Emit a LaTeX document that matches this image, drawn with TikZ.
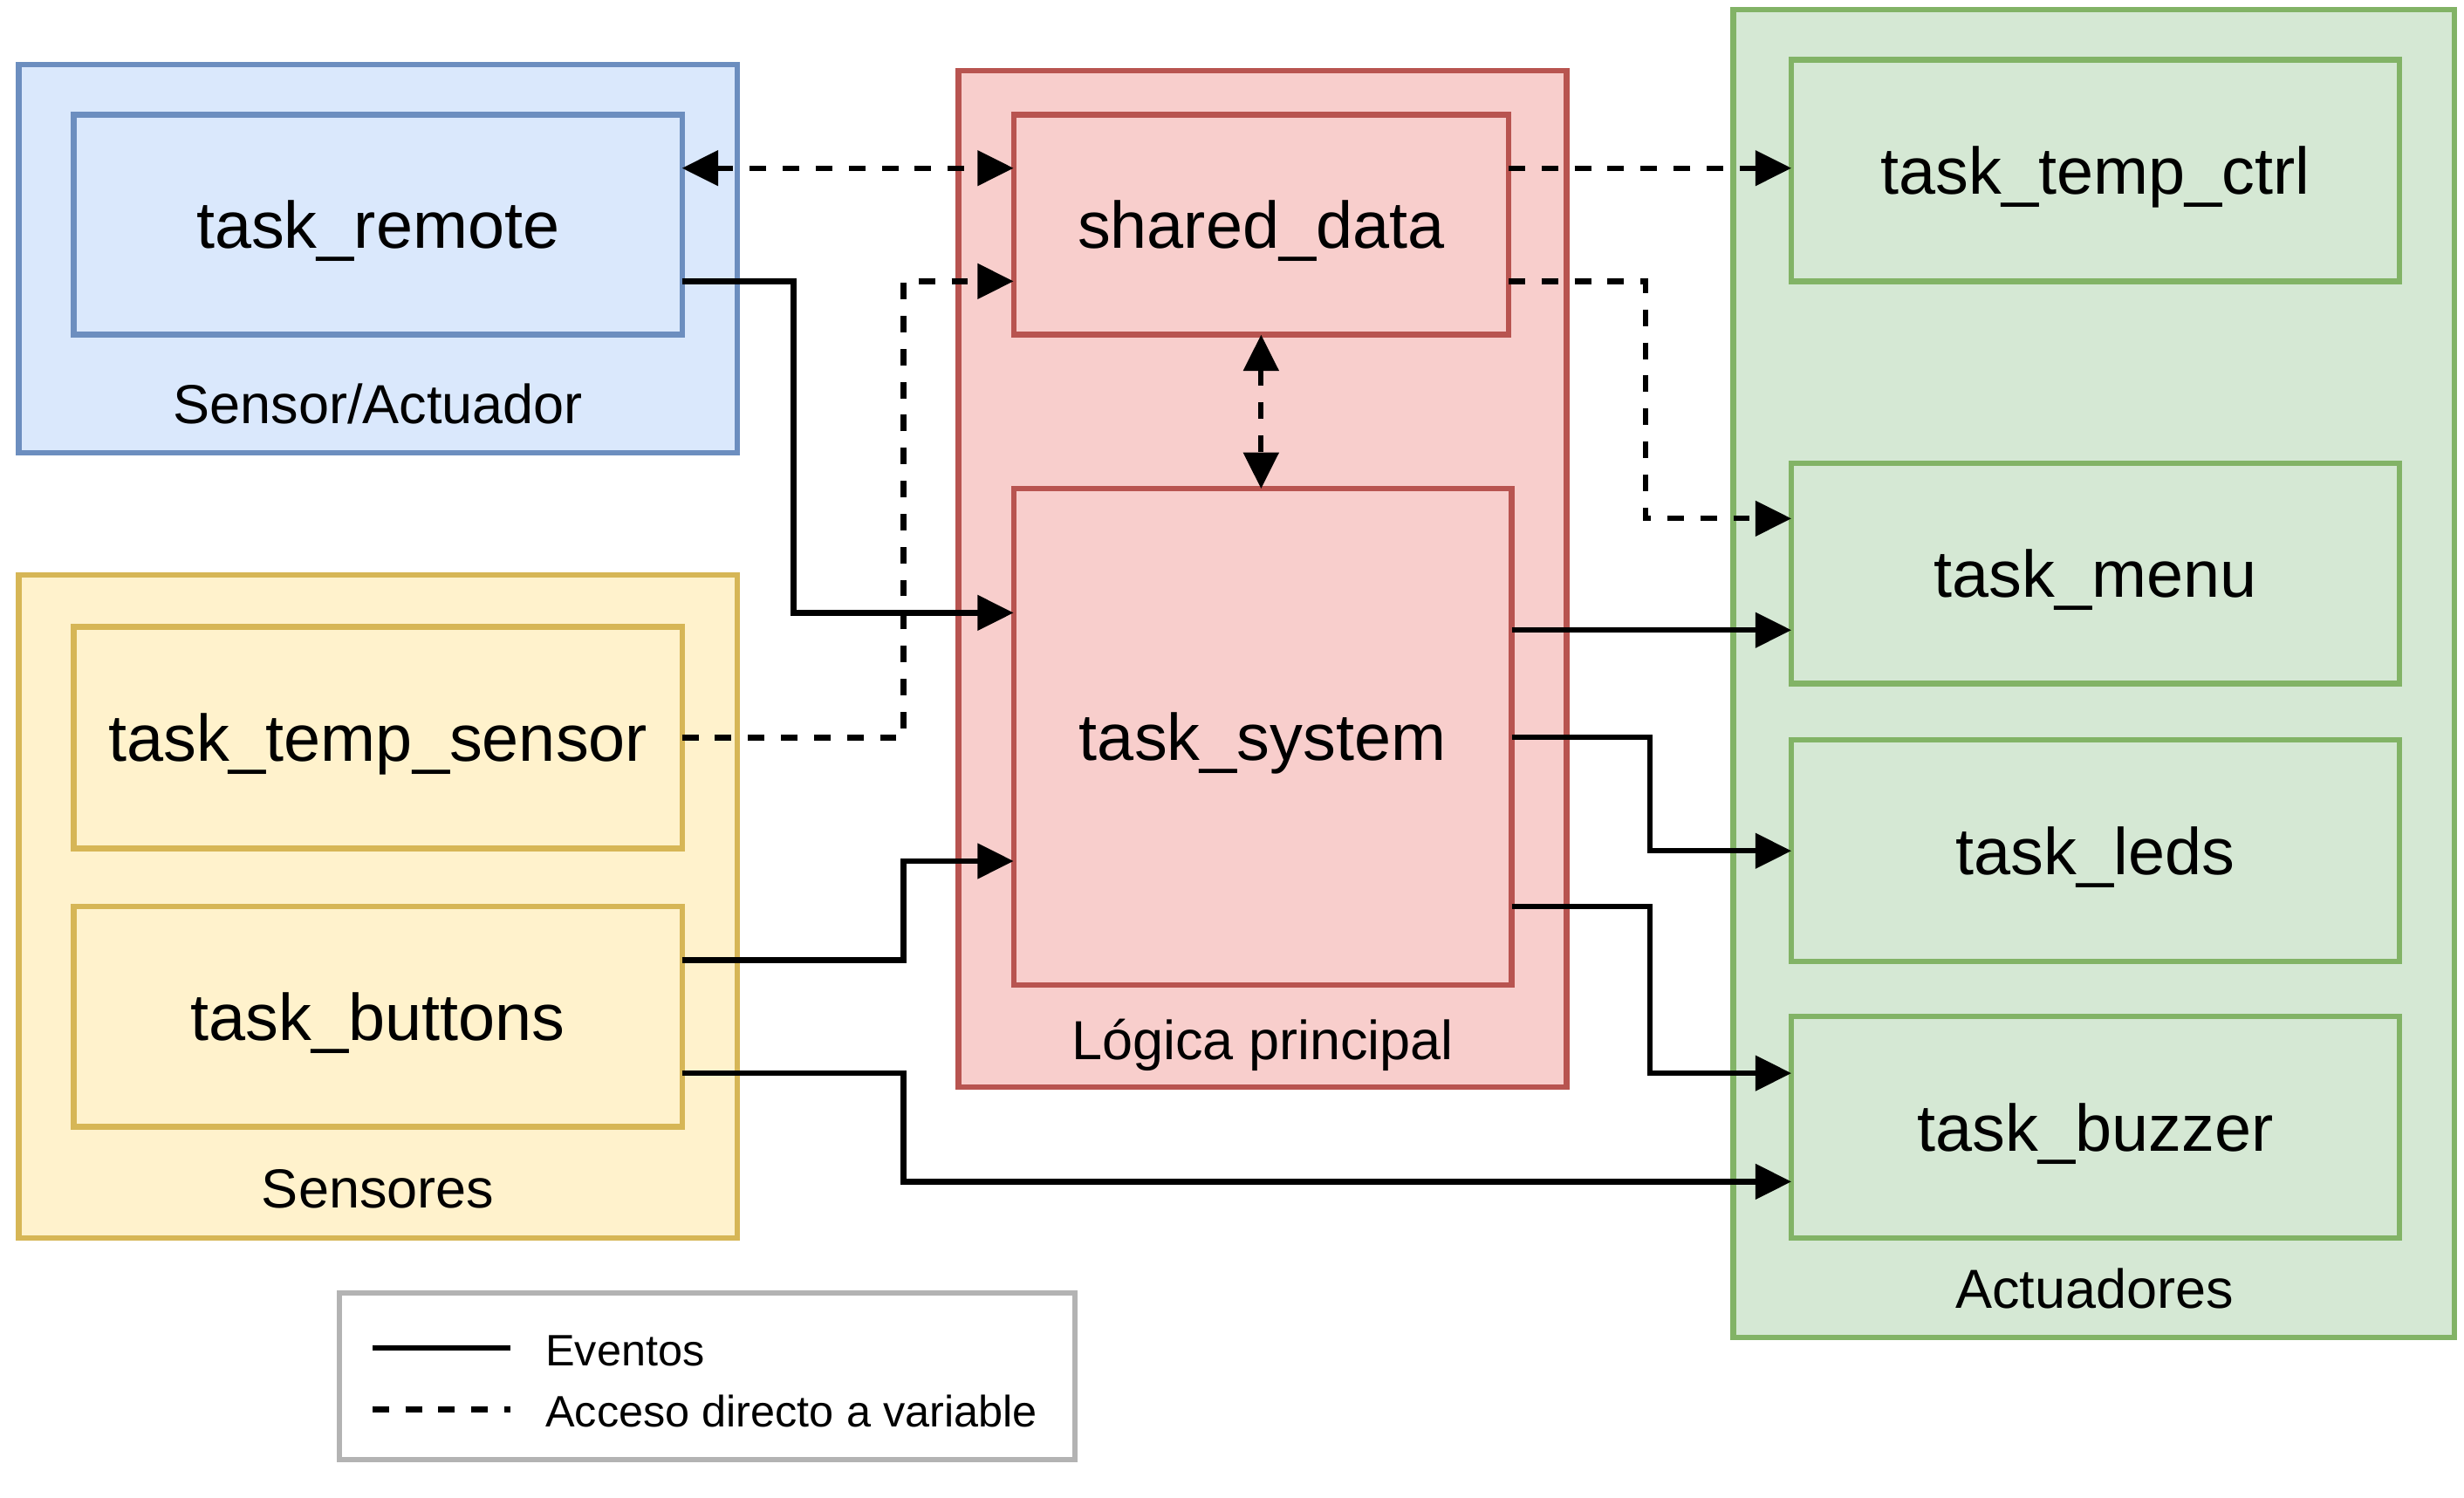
\documentclass[tikz,border=0pt]{standalone}
\usepackage{fontspec}
\setmainfont{Liberation Sans}
\usetikzlibrary{arrows.meta}
\definecolor{bfill}{HTML}{DAE8FC}\definecolor{bdraw}{HTML}{6C8EBF}
\definecolor{yfill}{HTML}{FFF2CC}\definecolor{ydraw}{HTML}{D6B656}
\definecolor{rfill}{HTML}{F8CECC}\definecolor{rdraw}{HTML}{B85450}
\definecolor{gfill}{HTML}{D5E8D4}\definecolor{gdraw}{HTML}{82B366}
\definecolor{legdraw}{HTML}{B3B3B3}
\begin{document}
\begin{tikzpicture}[x=1pt,y=-1pt,
  shape box/.style={rectangle, line width=3.5pt, inner sep=0pt, outer sep=0pt},
  task/.style={shape box, font=\fontsize{42}{50}\selectfont, text height=30pt, text depth=0pt},
  grouplabel/.style={inner sep=0pt, font=\fontsize{35}{42}\selectfont, text height=25pt, text depth=0pt},
  legtext/.style={inner sep=0pt, anchor=west, font=\fontsize{28}{34}\selectfont, text height=20pt, text depth=0pt},
  bluebox/.style={draw=bdraw, fill=bfill},
  yellowbox/.style={draw=ydraw, fill=yfill},
  redbox/.style={draw=rdraw, fill=rfill},
  greenbox/.style={draw=gdraw, fill=gfill},
  evline/.style={line width=3.5pt},
  accline/.style={line width=3.5pt, dash pattern=on 10.5pt off 10.5pt},
  tip/.style={-{Triangle[length=23pt,width=22pt]}},
  bothtips/.style={{Triangle[length=23pt,width=22pt]}-{Triangle[length=23pt,width=22pt]}}
]
\useasboundingbox (0,0) rectangle (1568,953);

% groups
\node[shape box, bluebox, minimum width=457pt, minimum height=247pt] (gblue) at (240.5,164.5) {};
\node[shape box, yellowbox, minimum width=457pt, minimum height=422pt] (gyellow) at (240.5,577) {};
\node[shape box, redbox, minimum width=387pt, minimum height=647pt] (gred) at (803.5,368.5) {};
\node[shape box, greenbox, minimum width=459pt, minimum height=845pt] (ggreen) at (1332.5,428.5) {};

\node[grouplabel] (lblue) at (240.5,257) {Sensor/Actuador};
\node[grouplabel] (lyellow) at (240.5,756) {Sensores};
\node[grouplabel] (lred) at (803.5,662) {Lógica principal};
\node[grouplabel] (lgreen) at (1333,820) {Actuadores};

% tasks
\node[task, bluebox, minimum width=387pt, minimum height=140pt] (tr) at (240.5,143) {task\_remote};
\node[task, yellowbox, minimum width=387pt, minimum height=141pt] (tts) at (240.5,469.5) {task\_temp\_sensor};
\node[task, yellowbox, minimum width=387pt, minimum height=140pt] (tb) at (240.5,647) {task\_buttons};
\node[task, redbox, minimum width=315pt, minimum height=140pt] (sd) at (802.5,143) {shared\_data};
\node[task, redbox, minimum width=317pt, minimum height=316pt] (ts) at (803.5,469) {task\_system};
\node[task, greenbox, minimum width=387pt, minimum height=141pt] (ttc) at (1333.5,108.5) {task\_temp\_ctrl};
\node[task, greenbox, minimum width=387pt, minimum height=140pt] (tm) at (1333.5,365) {task\_menu};
\node[task, greenbox, minimum width=387pt, minimum height=141pt] (tl) at (1333.5,541.5) {task\_leds};
\node[task, greenbox, minimum width=387pt, minimum height=141pt] (tbz) at (1333.5,717.5) {task\_buzzer};

% connectors: direct variable access (dashed)
\draw[accline, bothtips] (tr.east |- 0,107) -- (sd.west |- 0,107);
\draw[accline, tip] (tts.east) -- (575,469.5) -- (575,179) -- (sd.west |- 0,179);
\draw[accline, bothtips] (sd.south) -- (sd.south |- ts.north);
\draw[accline, tip] (sd.east |- 0,107) -- (ttc.west |- 0,107);
\draw[accline, tip] (sd.east |- 0,179) -- (1047,179) -- (1047,330) -- (tm.west |- 0,330);

% connectors: events (solid)
\draw[evline, tip] (tr.east |- 0,179) -- (505,179) -- (505,390) -- (ts.west |- 0,390);
\draw[evline, tip] (tb.east |- 0,611) -- (575,611) -- (575,548) -- (ts.west |- 0,548);
\draw[evline, tip] (tb.east |- 0,683) -- (575,683) -- (575,752) -- (tbz.west |- 0,752);
\draw[evline, tip] (ts.east |- 0,401) -- (tm.west |- 0,401);
\draw[evline, tip] (ts.east |- 0,469) -- (1050,469) -- (1050,541.5) -- (tl.west);
\draw[evline, tip] (ts.east |- 0,577) -- (1050,577) -- (1050,683) -- (tbz.west |- 0,683);

% legend
\node[shape box, draw=legdraw, fill=white, minimum width=468pt, minimum height=106pt] (leg) at (450,876) {};
\coordinate (la1) at (237,858); \coordinate (lb1) at (325,858);
\coordinate (la2) at (237,897); \coordinate (lb2) at (325,897);
\draw[evline] (la1) -- (lb1);
\draw[accline] (la2) -- (lb2);
\node[legtext] (tev) at (347,859) {Eventos};
\node[legtext] (tacc) at (347,898) {Acceso directo a variable};
\end{tikzpicture}
\end{document}
